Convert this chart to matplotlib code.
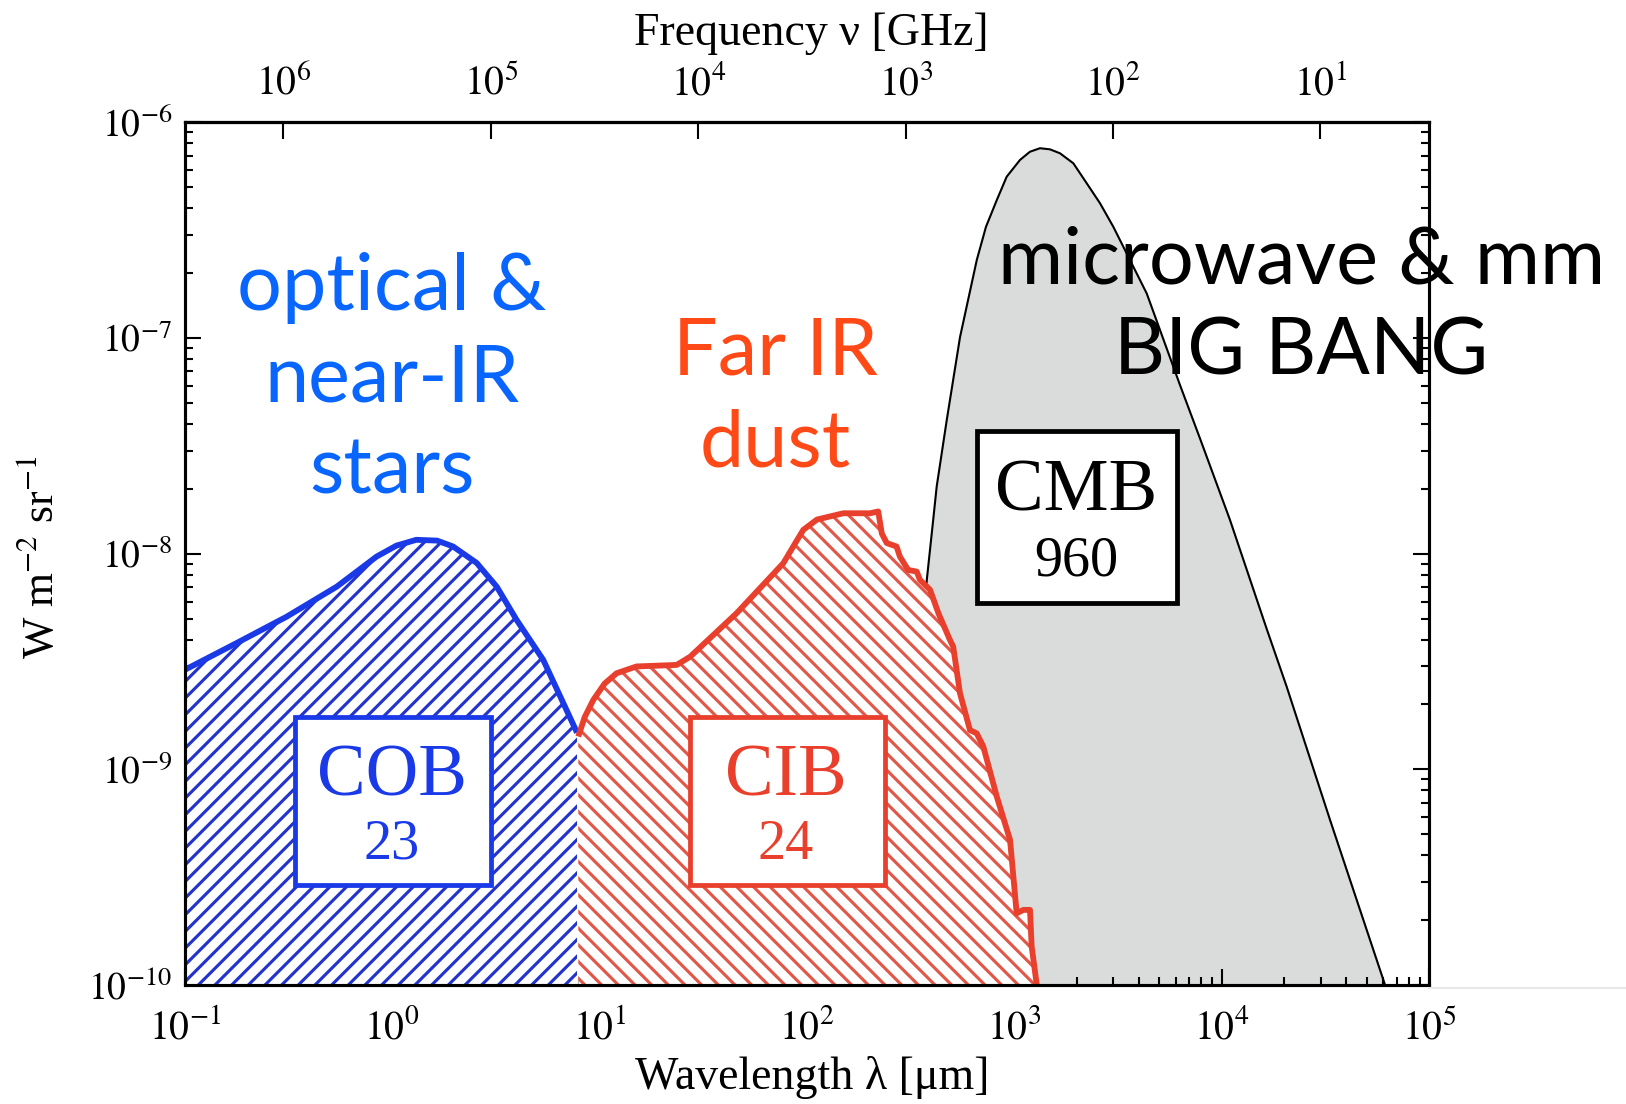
import numpy as np
import matplotlib
matplotlib.use("Agg")
import matplotlib.pyplot as plt
from matplotlib.patches import Rectangle
from matplotlib.lines import Line2D
from matplotlib.ticker import LogLocator, NullLocator, NullFormatter

plt.rcParams['font.family'] = ['Liberation Serif', 'DejaVu Serif']
plt.rcParams['mathtext.fontset'] = 'stix'
plt.rcParams['hatch.linewidth'] = 1.5

# wavelength [micron] and nu*I_nu [W m^-2 sr^-1]
cob_wl = [0.1, 0.178, 0.31, 0.541, 0.843, 1.05, 1.31, 1.65, 1.97, 2.56, 3.2, 3.99,
          5.36, 7.8]
cob_flux = [2.89e-9, 3.85e-9, 5.1e-9, 7.03e-9, 9.7e-9, 1.09e-8, 1.16e-8, 1.15e-8,
            1.08e-8, 9.06e-9, 7.03e-9, 4.93e-9, 3.22e-9, 1.48e-9]

cib_wl = [7.91, 8.5, 9.35, 10.6, 12.1, 15.1, 23.6, 27.4, 45.9, 77.1, 88, 96.2, 112,
          150, 202, 221, 230, 243, 271, 281, 308, 339, 351, 393, 431, 490, 508, 548,
          612, 659, 709, 824, 955, 1028, 1107, 1192, 1214, 1285]
cib_flux = [1.42e-9, 1.75e-9, 2.10e-9, 2.50e-9, 2.79e-9, 3.00e-9, 3.05e-9, 3.33e-9,
            5.30e-9, 9.04e-9, 1.12e-8, 1.29e-8, 1.44e-8, 1.54e-8, 1.54e-8, 1.57e-8,
            1.24e-8, 1.12e-8, 1.08e-8, 9.70e-9, 8.41e-9, 8.26e-9, 7.57e-9, 6.80e-9,
            5.30e-9, 3.98e-9, 3.71e-9, 2.25e-9, 1.52e-9, 1.47e-9, 1.28e-9, 7.48e-10,
            4.71e-10, 2.15e-10, 2.23e-10, 2.23e-10, 1.51e-10, 1.0e-10]

cmb_wl = [260, 330, 379, 407, 423, 473, 548, 660, 731, 824, 920, 1067, 1191, 1331,
          1488, 1663, 1929, 2237, 2592, 3006, 4355, 6295, 7870, 10960, 16500, 20590,
          33330, 61400]
cmb_flux = [1e-10, 1.5e-9, 7.57e-9, 1.44e-8, 2.05e-8, 4.17e-8, 1.01e-7, 2.30e-7,
            3.28e-7, 4.36e-7, 5.6e-7, 6.70e-7, 7.31e-7, 7.59e-7, 7.5e-7, 7.19e-7,
            6.46e-7, 5.22e-7, 4.22e-7, 3.28e-7, 1.61e-7, 6.07e-8, 3.42e-8, 1.44e-8,
            4.48e-9, 2.42e-9, 5.83e-10, 1.0e-10]

# integrated intensities [nW m^-2 sr^-1]
band_names = ['COB', 'CIB', 'CMB']
band_totals = ['23', '24', '960']

x_ticks = [1e-1, 1e0, 1e1, 1e2, 1e3, 1e4, 1e5]
x_labels = ['$10^{-1}$', '$10^{0}$', '$10^{1}$', '$10^{2}$', '$10^{3}$', '$10^{4}$', '$10^{5}$']
y_ticks = [1e-10, 1e-9, 1e-8, 1e-7, 1e-6]
y_labels = ['$10^{-10}$', '$10^{-9}$', '$10^{-8}$', '$10^{-7}$', '$10^{-6}$']
f_ticks = [1e6, 1e5, 1e4, 1e3, 1e2, 1e1]
f_labels = ['$10^{6}$', '$10^{5}$', '$10^{4}$', '$10^{3}$', '$10^{2}$', '$10^{1}$']

blue_line = '#1a3ae8'
blue_hatch = '#2234cc'
red_line = '#e8402c'
red_hatch = '#e0584a'
grey = '#dadbdb'


def wl_to_ghz(x):
    x = np.asarray(x, dtype=float)
    with np.errstate(divide='ignore'):
        return 2.998e5 / x


fig = plt.figure(figsize=(10.84, 7.36), dpi=150)
ax = fig.add_axes([0.11353, 0.10779, 0.76531, 0.78134])
ax.set_xscale('log')
ax.set_yscale('log')
ax.set_xlim(1e-1, 1e5)
ax.set_ylim(1e-10, 1e-6)

# CMB blackbody
ax.fill_between(cmb_wl, cmb_flux, 1e-11, facecolor=grey, edgecolor='none', zorder=1)
ax.plot(cmb_wl, cmb_flux, color='black', lw=1.0, zorder=2)

# optical background
ax.fill_between(cob_wl, cob_flux, 1e-11, facecolor='white', edgecolor=blue_hatch,
                hatch='///', linewidth=0, zorder=3)
ax.plot(cob_wl, cob_flux, color=blue_line, lw=2.8, solid_capstyle='butt',
        solid_joinstyle='round', zorder=4)

# infrared background
ax.fill_between(cib_wl, cib_flux, 1e-11, facecolor='white', edgecolor=red_hatch,
                hatch='\\\\\\', linewidth=0, zorder=3)
ax.plot(cib_wl, cib_flux, color=red_line, lw=2.8, solid_capstyle='butt',
        solid_joinstyle='round', zorder=4)

# boxes with band names
boxes = [(0.0885, 0.1160, 0.1575, 0.1950, blue_line, 0.1667),
         (0.4063, 0.1160, 0.1567, 0.1950, red_line, 0.4831),
         (0.6366, 0.4433, 0.1607, 0.1988, 'black', 0.7163)]
for (x0, y0, w, h, col, xc), name, total in zip(boxes, band_names, band_totals):
    ax.add_patch(Rectangle((x0, y0), w, h, transform=ax.transAxes, facecolor='white',
                           edgecolor=col, lw=2.3, zorder=5))
    ax.text(xc, y0 + h * 0.64, name, transform=ax.transAxes, ha='center', va='center',
            fontsize=35, color=col, zorder=6)
    ax.text(xc, y0 + h * 0.24, total, transform=ax.transAxes, ha='center', va='center',
            fontsize=27, color=col, zorder=6)

# big labels
ax.text(0.1667, 0.702, 'optical &\nnear-IR\nstars', transform=ax.transAxes,
        ha='center', va='center', fontsize=38, family='Lato', color='#0866ff',
        linespacing=1.34, zorder=7)
ax.text(0.475, 0.680, 'Far IR\ndust', transform=ax.transAxes, ha='center', va='center',
        fontsize=38, family='Lato', color='#ff4a18', linespacing=1.34, zorder=7)
ax.text(0.8975, 0.786, 'microwave & mm\nBIG BANG', transform=ax.transAxes,
        ha='center', va='center', fontsize=38, family='Lato', color='black',
        linespacing=1.32, zorder=7)

# axes styling
for s in ax.spines.values():
    s.set_linewidth(1.5)
    s.set_zorder(8)
ax.set_xticks(x_ticks)
ax.set_xticklabels(x_labels)
ax.set_yticks(y_ticks)
ax.set_yticklabels(y_labels)
ax.xaxis.set_minor_locator(LogLocator(base=10, subs=np.arange(2, 10), numticks=20))
ax.yaxis.set_minor_locator(LogLocator(base=10, subs=np.arange(2, 10), numticks=20))
ax.xaxis.set_minor_formatter(NullFormatter())
ax.yaxis.set_minor_formatter(NullFormatter())
ax.tick_params(which='both', direction='in', top=False, right=True, width=1.0)
ax.tick_params(which='major', length=7.5, labelsize=19)
ax.tick_params(which='minor', length=4)
ax.tick_params(axis='x', pad=12)
ax.tick_params(axis='y', pad=6, labelsize=18)

sec = ax.secondary_xaxis('top', functions=(wl_to_ghz, wl_to_ghz))
sec.set_xticks(f_ticks)
sec.set_xticklabels(f_labels)
sec.xaxis.set_minor_locator(NullLocator())
sec.tick_params(direction='in', length=8, width=1.0, labelsize=19, pad=9)
sec.spines['top'].set_linewidth(1.5)

fig.text(0.4988, 0.969, 'Frequency ν [GHz]', ha='center', va='center', fontsize=22)
fig.text(0.4994, 0.024, 'Wavelength λ [μm]', ha='center', va='center', fontsize=22)
fig.text(0.0255, 0.4955, 'W m$^{-2}$ sr$^{-1}$', ha='center', va='center', fontsize=21,
         rotation=90)

fig.add_artist(Line2D([0.879, 1.0], [0.105, 0.105], transform=fig.transFigure,
                      color='#e8e8e8', lw=1.0))

fig.savefig('out.png', dpi=150)
